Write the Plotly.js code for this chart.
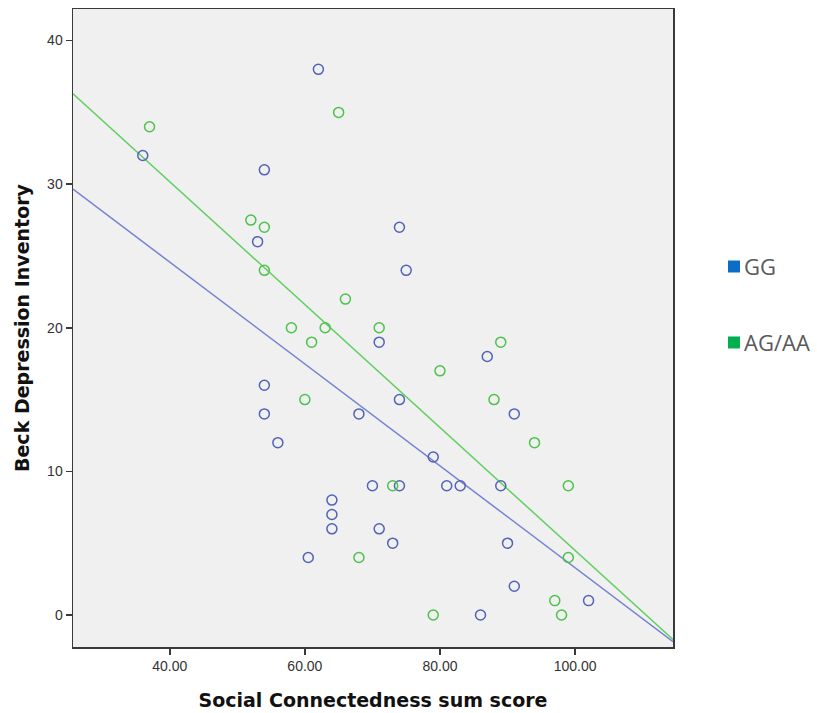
<!DOCTYPE html>
<html>
<head>
<meta charset="utf-8">
<script src="https://cdn.plot.ly/plotly-3.0.1.min.js"></script>
<style>html,body{margin:0;padding:0;background:#fff;}#chart{width:817px;height:713px;}</style>
</head>
<body>
<div id="chart"></div>
<script>
// GG group
const ggX = [62, 36, 54, 53, 74, 75, 54, 54, 68, 56, 70, 64, 64, 64, 60.5, 71, 87, 74, 91, 79, 74, 81, 83, 89, 71, 73, 90, 91, 102, 86];
const ggY = [38, 32, 31, 26, 27, 24, 16, 14, 14, 12, 9, 8, 7, 6, 4, 19, 18, 15, 14, 11, 9, 9, 9, 9, 6, 5, 5, 2, 1, 0];
// AG/AA group
const agX = [65, 37, 52, 54, 54, 66, 58, 63, 71, 61, 60, 68, 89, 80, 88, 94, 73, 99, 99, 97, 79, 98];
const agY = [35, 34, 27.5, 27, 24, 22, 20, 20, 20, 19, 15, 4, 19, 17, 15, 12, 9, 9, 4, 1, 0, 0];
const groupNames = ['GG', 'AG/AA'];
const xTicks = [40, 60, 80, 100];
const xTickText = ['40.00', '60.00', '80.00', '100.00'];
const yTicks = [0, 10, 20, 30, 40];

const xRange = [25.67, 114.5];
const yRange = [-2.23, 42.2];

function ols(xs, ys) {
  const n = xs.length;
  const mx = xs.reduce((a, b) => a + b, 0) / n;
  const my = ys.reduce((a, b) => a + b, 0) / n;
  let sxy = 0, sxx = 0;
  for (let i = 0; i < n; i++) { sxy += (xs[i] - mx) * (ys[i] - my); sxx += (xs[i] - mx) ** 2; }
  const b = sxy / sxx;
  return { a: my - b * mx, b: b };
}
const fitGG = ols(ggX, ggY);
const fitAG = ols(agX, agY);
const lineX = xRange.slice();

const cBlueM = '#5262b8', cGreenM = '#4cc24c';
const cBlueL = '#7482d2', cGreenL = '#5fcf5f';

const traces = [
  { x: lineX, y: lineX.map(v => fitGG.a + fitGG.b * v), mode: 'lines', line: { color: cBlueL, width: 1.5 }, showlegend: false, hoverinfo: 'skip' },
  { x: lineX, y: lineX.map(v => fitAG.a + fitAG.b * v), mode: 'lines', line: { color: cGreenL, width: 1.5 }, showlegend: false, hoverinfo: 'skip' },
  { x: ggX, y: ggY, name: groupNames[0], mode: 'markers', type: 'scatter', showlegend: false,
    marker: { symbol: 'circle-open', size: 10, color: cBlueM, line: { width: 1.5, color: cBlueM } } },
  { x: agX, y: agY, name: groupNames[1], mode: 'markers', type: 'scatter', showlegend: false,
    marker: { symbol: 'circle-open', size: 10, color: cGreenM, line: { width: 1.5, color: cGreenM } } }
];

const axisCommon = {
  showgrid: false, zeroline: false, showline: true, mirror: true,
  linecolor: '#3a3a3a', linewidth: 1.5,
  ticks: 'outside', ticklen: 6, tickcolor: '#3a3a3a', tickwidth: 1.5,
  tickfont: { family: 'Liberation Sans, Arial, sans-serif', size: 14, color: '#333' }
};
const titleFont = { family: 'DejaVu Sans, sans-serif', size: 19, color: '#111', weight: 'bold' };

const layout = {
  width: 817, height: 713,
  margin: { l: 73, r: 144, t: 9, b: 66 },
  paper_bgcolor: '#ffffff', plot_bgcolor: '#f0f0f0',
  showlegend: false,
  xaxis: Object.assign({}, axisCommon, {
    range: xRange, tickvals: xTicks, ticktext: xTickText,
    title: { text: 'Social Connectedness sum score', standoff: 20, font: titleFont }
  }),
  yaxis: Object.assign({}, axisCommon, {
    range: yRange, tickvals: yTicks,
    title: { text: 'Beck Depression Inventory', standoff: 12, font: titleFont }
  }),
  shapes: [
    { type: 'rect', xref: 'paper', yref: 'paper', x0: 1.0917, x1: 1.1117, y0: 0.5870, y1: 0.6058, fillcolor: '#0a6ec8', line: { width: 0 } },
    { type: 'rect', xref: 'paper', yref: 'paper', x0: 1.0917, x1: 1.1117, y0: 0.4679, y1: 0.4867, fillcolor: '#00b050', line: { width: 0 } }
  ],
  annotations: [
    { xref: 'paper', yref: 'paper', x: 1.1150, y: 0.5964, xanchor: 'left', yanchor: 'middle', showarrow: false,
      text: groupNames[0], font: { family: 'Open Sans, Noto Sans, sans-serif', size: 22, color: '#595959' } },
    { xref: 'paper', yref: 'paper', x: 1.1150, y: 0.4773, xanchor: 'left', yanchor: 'middle', showarrow: false,
      text: groupNames[1], font: { family: 'Open Sans, Noto Sans, sans-serif', size: 22, color: '#595959' } }
  ]
};

Plotly.newPlot('chart', traces, layout, { displayModeBar: false, staticPlot: true });
</script>
</body>
</html>
